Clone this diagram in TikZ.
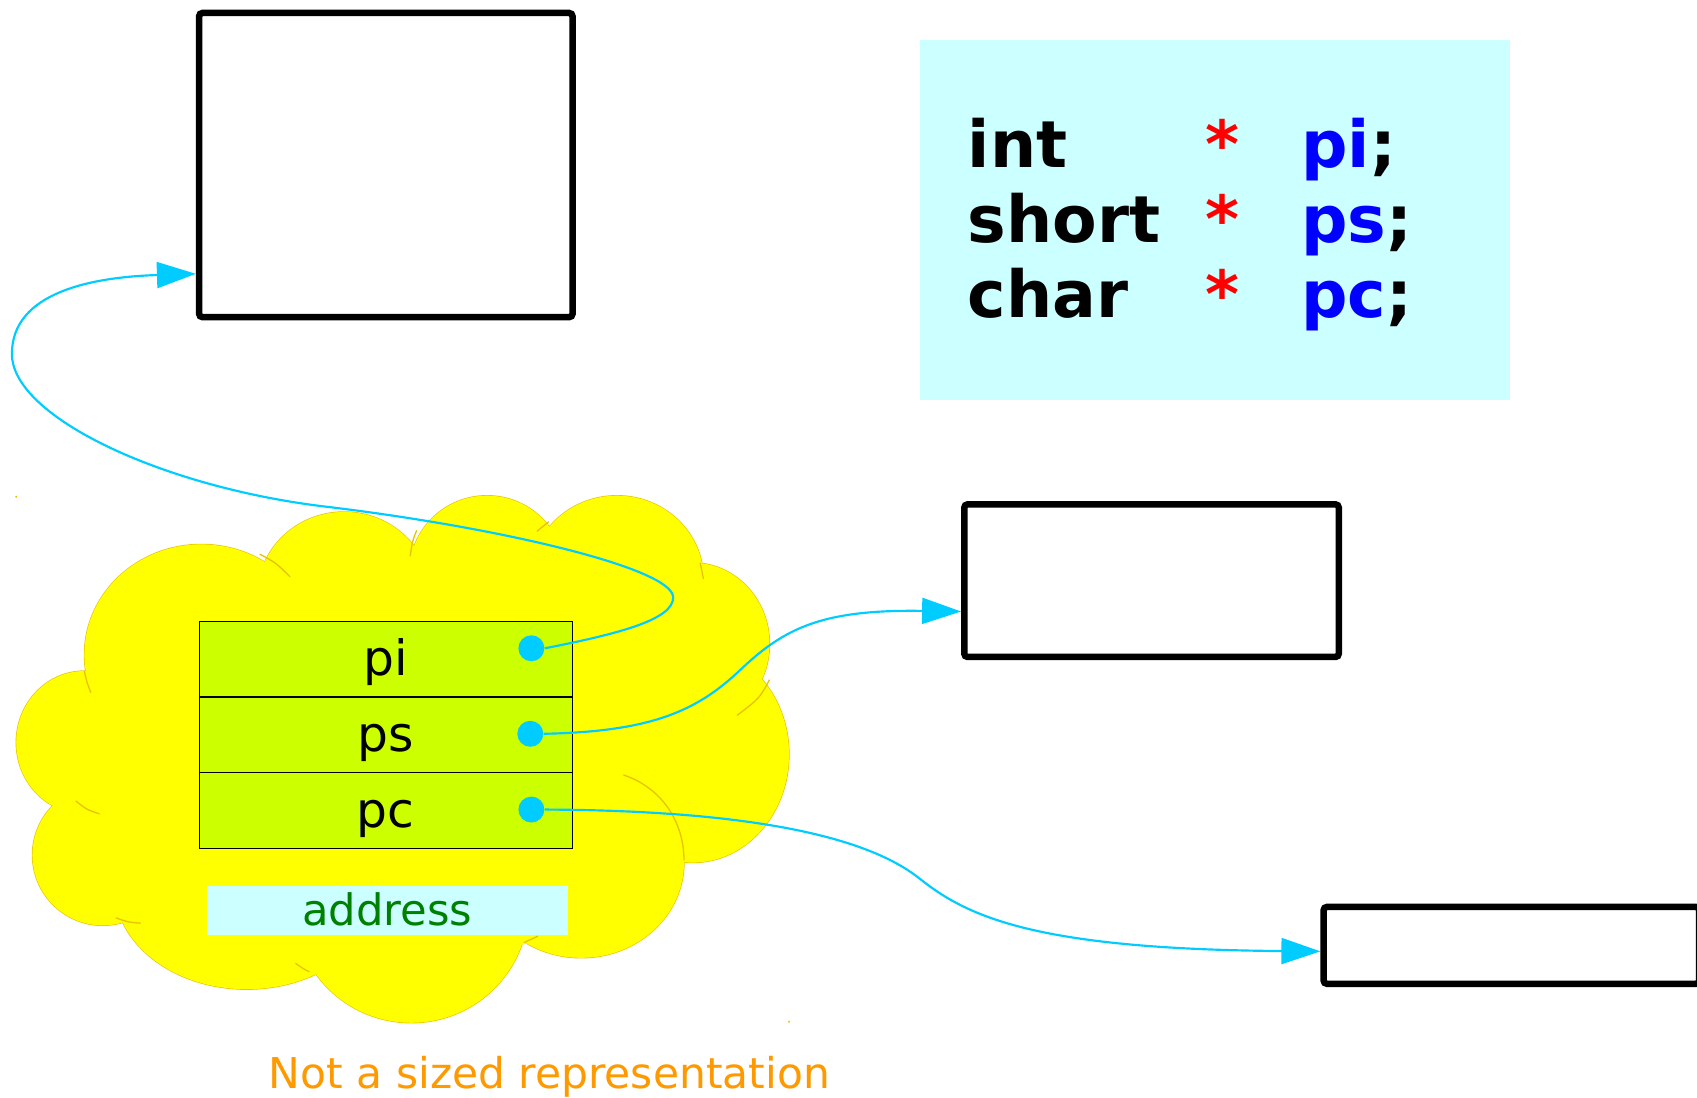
\documentclass[tikz,border=0pt]{standalone}
\usepackage{fontspec}
\setmainfont{DejaVu Sans}
\usetikzlibrary{arrows.meta}

\definecolor{ptrcyan}{HTML}{00CCFF}
\definecolor{codebg}{HTML}{CCFFFF}
\definecolor{rowgreen}{HTML}{CCFF00}
\definecolor{cloudyellow}{HTML}{FFFF00}
\definecolor{cloudline}{HTML}{E8C200}
\definecolor{addrgreen}{HTML}{008000}
\definecolor{noteorange}{HTML}{FF9900}
\definecolor{kwblue}{HTML}{0000FF}
\definecolor{starred}{HTML}{FF0000}

\begin{document}
\begin{tikzpicture}[x=0.5pt,y=-0.5pt,
  memcell/.style={draw=black,line width=3pt,rounded corners=1.5pt,inner sep=0pt},
  ptrrow/.style={draw=black,line width=0.5pt,fill=rowgreen,minimum width=172.5pt,
    minimum height=35pt,inner sep=0pt,font=\fontsize{22.5}{27}\selectfont,
    text height=20.6pt,text depth=5.4pt},
  ptrdot/.style={circle,fill=ptrcyan,minimum size=12pt,inner sep=0pt},
  ptrarrow/.style={draw=ptrcyan,line width=1pt,-{Triangle[length=18pt,width=12pt]}},
  codetxt/.style={anchor=base west,inner sep=0pt,font=\fontsize{30}{36}\selectfont\bfseries},
  cloudedge/.style={draw=cloudline,line width=0.6pt}
]
\useasboundingbox (0,0) rectangle (1568,1014);

% declaration box
\fill[codebg] (850,37) rectangle (1395,370);
\node[codetxt] (tint)   at (894,155) {int};
\node[codetxt] (tshort) at (894,224) {short};
\node[codetxt] (tchar)  at (894,293) {char};
\node[codetxt,text=starred] (s1) at (1113,155) {*};
\node[codetxt,text=starred] (s2) at (1113,224) {*};
\node[codetxt,text=starred] (s3) at (1113,293) {*};
\node[codetxt] (vpi) at (1202,155) {\textcolor{kwblue}{pi};};
\node[codetxt] (vps) at (1202,224) {\textcolor{kwblue}{ps};};
\node[codetxt] (vpc) at (1202,293) {\textcolor{kwblue}{pc};};

% memory cells pointed to
\node[memcell,minimum width=172.5pt,minimum height=140.5pt] (box1) at (356.5,152.5) {};
\node[memcell,minimum width=173pt,minimum height=70.5pt] (box2) at (1064,536.5) {};
\node[memcell,minimum width=173.5pt,minimum height=35.5pt] (box3) at (1396.5,873.5) {};

% cloud: outlines first, then the fill hides the inner parts
\def\bumps{186/605/108/102, 78/686/63/66, 95/790/65/65, 228/820/122/94,
  380/838/108/107, 537/797/95/88, 640/697/89/100, 640/595/71/75,
  570/535/80/77, 450/530/72/72, 318/550/80/77}
\foreach \cx/\cy/\rx/\ry in \bumps
  \draw[cloudedge] (\cx,\cy) ellipse [x radius=\rx, y radius=\ry];
\foreach \cx/\cy/\rx/\ry in \bumps
  \fill[cloudyellow] (\cx,\cy) ellipse [x radius=\rx, y radius=\ry];
\fill[cloudyellow] (370,700) ellipse [x radius=270, y radius=190];
% short seams between the bumps
\draw[cloudedge] (240,512) .. controls (255,520) .. (268,533);
\draw[cloudedge] (385,490) .. controls (381,500) .. (379,514);
\draw[cloudedge] (507,482) .. controls (501,486) .. (496,491);
\draw[cloudedge] (647,520) .. controls (649,527) .. (650,535);
\draw[cloudedge] (711,628) .. controls (702,645) .. (681,661);
\draw[cloudedge] (576,716) .. controls (612,728) and (632,760) .. (632,795);
\draw[cloudedge] (497,865) .. controls (490,868) .. (484,871);
\draw[cloudedge] (273,890) .. controls (280,895) .. (286,898);
\draw[cloudedge] (107,848) .. controls (118,852) .. (130,853);
\draw[cloudedge] (70,740) .. controls (80,748) .. (92,752);
\draw[cloudedge] (78,620) .. controls (80,630) .. (84,640);
\fill[cloudline] (15,459) circle (0.5pt);
\fill[cloudline] (729,944) circle (0.5pt);

% pointer variables
\node[ptrrow] (rpi) at (356.5,609) {pi};
\node[ptrrow] (rps) at (356.5,679) {ps};
\node[ptrrow] (rpc) at (356.5,749) {pc};
\node[ptrdot] (dpi) at (491,599) {};
\node[ptrdot] (dps) at (490,678) {};
\node[ptrdot] (dpc) at (491,748) {};

\node[fill=codebg,minimum width=167pt,minimum height=22.7pt,inner sep=0pt,
  text=addrgreen,font=\fontsize{20}{24}\selectfont,text height=13.7pt,text depth=0pt]
  (addr) at (358,841.3) {address};

\node[anchor=base west,inner sep=0pt,text=noteorange,font=\fontsize{19.6}{24}\selectfont]
  (note) at (248,1006) {Not a sized representation};

% connectors
\coordinate (y1) at (0,253);
\coordinate (y2) at (0,565);
\coordinate (y3) at (0,879);
\draw[ptrarrow] (dpi.east) .. controls (575,585) and (622,572) .. (622,552)
  .. controls (622,525) and (460,487) .. (300,468)
  .. controls (150,450) and (11,385) .. (11,327)
  .. controls (11,270) and (85,256) .. (box1.west |- y1);
\draw[ptrarrow] (dps.east) .. controls (600,676) and (643,658) .. (684,619)
  .. controls (725,580) and (760,563) .. (box2.west |- y2);
\draw[ptrarrow] (dpc.east) .. controls (720,749) and (810,780) .. (850,812)
  .. controls (895,848) and (960,877) .. (box3.west |- y3);
\end{tikzpicture}
\end{document}
